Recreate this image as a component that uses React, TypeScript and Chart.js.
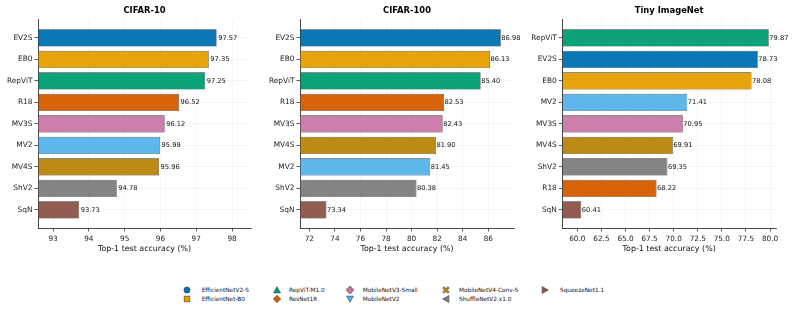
import React, { useEffect, useRef } from "react";
import { Chart, registerables } from "chart.js";
Chart.register(...registerables);

const FONT = '"DejaVu Sans", "Liberation Sans", sans-serif';

const cifar10Labels = ["EV2S", "EB0", "RepViT", "R18", "MV3S", "MV2", "MV4S", "ShV2", "SqN"];
const cifar10Values = [97.57, 97.35, 97.25, 96.52, 96.12, 95.99, 95.96, 94.78, 93.73];
const cifar10Ticks = [93, 94, 95, 96, 97, 98];

const cifar100Labels = ["EV2S", "EB0", "RepViT", "R18", "MV3S", "MV4S", "MV2", "ShV2", "SqN"];
const cifar100Values = [86.98, 86.13, 85.4, 82.53, 82.43, 81.9, 81.45, 80.38, 73.34];
const cifar100Ticks = [72, 74, 76, 78, 80, 82, 84, 86];

const tinyLabels = ["RepViT", "EV2S", "EB0", "MV2", "MV3S", "MV4S", "ShV2", "R18", "SqN"];
const tinyValues = [79.87, 78.73, 78.08, 71.41, 70.95, 69.91, 69.35, 68.22, 60.41];
const tinyTicks = [60, 62.5, 65, 67.5, 70, 72.5, 75, 77.5, 80];

const modelColors: Record<string, string> = {
  EV2S: "#0072B2",
  EB0: "#E69F00",
  RepViT: "#009E73",
  R18: "#D55E00",
  MV3S: "#CC79A7",
  MV2: "#56B4E9",
  MV4S: "#B8860B",
  ShV2: "#7F7F7F",
  SqN: "#8C564B",
};

const legendKeys = ["EV2S", "EB0", "RepViT", "R18", "MV3S", "MV2", "MV4S", "ShV2", "SqN"];
const legendNames = [
  "EfficientNetV2-S",
  "EfficientNet-B0",
  "RepViT-M1.0",
  "ResNet18",
  "MobileNetV3-Small",
  "MobileNetV2",
  "MobileNetV4-Conv-S",
  "ShuffleNetV2 x1.0",
  "SqueezeNet1.1",
];
const legendMarkers = ["circle", "square", "triUp", "diamond", "plus", "triDown", "x", "triLeft", "triRight"];

const xTitle = "Top-1 test accuracy (%)";

function hexA(hex: string, a: number) {
  const n = parseInt(hex.slice(1), 16);
  return `rgba(${(n >> 16) & 255},${(n >> 8) & 255},${n & 255},${a})`;
}

const valueLabelPlugin = {
  id: "valueLabels",
  afterDatasetsDraw(chart: any, _args: any, opts: any) {
    const ctx = chart.ctx;
    const meta = chart.getDatasetMeta(0);
    const ds = chart.data.datasets[0];
    ctx.save();
    ctx.font = `6.7px ${FONT}`;
    ctx.fillStyle = "#111";
    ctx.textBaseline = "middle";
    ctx.textAlign = "left";
    meta.data.forEach((bar: any, i: number) => {
      const v = ds.data[i].x;
      ctx.fillText(v.toFixed(2), bar.x + (opts.offset ?? 1), bar.y);
    });
    ctx.restore();
  },
};

type PanelProps = {
  title: string;
  labels: string[];
  values: number[];
  ticks: number[];
  digits: number;
  xMin: number;
  xMax: number;
  left: number;
  width: number;
  areaLeft: number;
  areaRight: number;
  labelOffset: number;
};

function Panel(p: PanelProps) {
  const ref = useRef<HTMLCanvasElement>(null);
  useEffect(() => {
    const chart = new Chart(ref.current!, {
      type: "bar",
      data: {
        datasets: [
          {
            data: p.labels.map((l, i) => ({ x: p.values[i], y: i })),
            backgroundColor: p.labels.map((l) => hexA(modelColors[l], 0.96)),
            borderColor: "#333",
            borderWidth: 0.6,
            borderSkipped: false,
            base: p.xMin,
            barPercentage: 0.8,
            categoryPercentage: 1,
          } as any,
        ],
      },
      options: {
        animation: false,
        responsive: false,
        indexAxis: "y",
        layout: { padding: { left: 0, right: p.width - p.areaRight, top: 0, bottom: 0 } },
        plugins: {
          legend: { display: false },
          tooltip: { enabled: false },
          title: {
            display: true,
            text: p.title,
            fullSize: false,
            color: "#000",
            font: { family: FONT, size: 8.4, weight: "bold" },
            padding: { top: 6, bottom: 3.8 },
          },
          valueLabels: { offset: p.labelOffset },
        } as any,
        scales: {
          x: {
            type: "linear",
            min: p.xMin,
            max: p.xMax,
            offset: false,
            afterBuildTicks: (s: any) => {
              s.ticks = p.ticks.map((v) => ({ value: v }));
            },
            afterFit: (s: any) => {
              s.height = 32;
            },
            ticks: {
              callback: (v: any) => Number(v).toFixed(p.digits),
              font: { family: FONT, size: 7.3 },
              color: "#222",
              padding: 3,
              maxRotation: 0,
              autoSkip: false,
            },
            grid: {
              color: "rgba(0,0,0,0.07)",
              lineWidth: 0.6,
              tickColor: "#333",
              tickLength: 3.5,
              tickWidth: 0.8,
              offset: false,
            },
            border: { color: "#333", width: 0.9 },
            title: {
              display: true,
              text: xTitle,
              color: "#111",
              font: { family: FONT, size: 7.9 },
              padding: { top: 0, bottom: 5.9 },
            },
          },
          y: {
            type: "linear",
            reverse: true,
            min: -0.84,
            max: 8.84,
            offset: false,
            afterBuildTicks: (s: any) => {
              s.ticks = p.labels.map((_, i) => ({ value: i }));
            },
            afterFit: (s: any) => {
              s.width = p.areaLeft;
            },
            ticks: {
              callback: (v: any) => p.labels[Math.round(Number(v))] ?? "",
              font: { family: FONT, size: 7.4 },
              color: "#222",
              padding: 2,
              autoSkip: false,
            },
            grid: {
              color: "rgba(0,0,0,0.07)",
              lineWidth: 0.6,
              tickColor: "#333",
              tickLength: 3.5,
              tickWidth: 0.8,
              offset: false,
            },
            border: { color: "#333", width: 0.9 },
          },
        } as any,
      },
      plugins: [valueLabelPlugin as any],
    });
    return () => chart.destroy();
  }, []);
  return (
    <canvas
      ref={ref}
      width={p.width}
      height={260}
      style={{ position: "absolute", left: p.left, top: 0, width: p.width, height: 260, display: "block" }}
    />
  );
}

function Marker({ kind, color }: { kind: string; color: string }) {
  const s = "#333";
  const sw = 0.5;
  let shape: any = null;
  switch (kind) {
    case "circle":
      shape = <circle cx={4} cy={4} r={3.1} fill={color} stroke={s} strokeWidth={sw} />;
      break;
    case "square":
      shape = <rect x={1.1} y={1.1} width={5.8} height={5.8} fill={color} stroke={s} strokeWidth={sw} />;
      break;
    case "triUp":
      shape = <polygon points="4,0.6 7.5,6.9 0.5,6.9" fill={color} stroke={s} strokeWidth={sw} />;
      break;
    case "triDown":
      shape = <polygon points="4,7.4 7.5,1.1 0.5,1.1" fill={color} stroke={s} strokeWidth={sw} />;
      break;
    case "triLeft":
      shape = <polygon points="0.6,4 6.9,0.5 6.9,7.5" fill={color} stroke={s} strokeWidth={sw} />;
      break;
    case "triRight":
      shape = <polygon points="7.4,4 1.1,0.5 1.1,7.5" fill={color} stroke={s} strokeWidth={sw} />;
      break;
    case "diamond":
      shape = <polygon points="4,0.2 7.8,4 4,7.8 0.2,4" fill={color} stroke={s} strokeWidth={sw} />;
      break;
    case "plus":
      shape = (
        <polygon
          points="2.7,0.7 5.3,0.7 5.3,2.7 7.3,2.7 7.3,5.3 5.3,5.3 5.3,7.3 2.7,7.3 2.7,5.3 0.7,5.3 0.7,2.7 2.7,2.7"
          fill={color}
          stroke={s}
          strokeWidth={sw}
        />
      );
      break;
    case "x":
      shape = (
        <polygon
          points="2.1,0.7 4,2.6 5.9,0.7 7.3,2.1 5.4,4 7.3,5.9 5.9,7.3 4,5.4 2.1,7.3 0.7,5.9 2.6,4 0.7,2.1"
          fill={color}
          stroke={s}
          strokeWidth={sw}
        />
      );
      break;
  }
  return (
    <svg width={8} height={8} viewBox="0 0 8 8" style={{ position: "absolute", left: -4, top: -4 }}>
      {shape}
    </svg>
  );
}

const legendColX = [186.7, 276.7, 350, 446, 545];
const legendTextX = [201.7, 289, 362.7, 459, 560];
const legendRowY = [290, 299];

function Legend() {
  return (
    <>
      {legendKeys.map((k, i) => {
        const col = Math.floor(i / 2);
        const row = i % 2;
        const y = legendRowY[row];
        return (
          <React.Fragment key={k}>
            <div style={{ position: "absolute", left: legendColX[col], top: y, width: 0, height: 0 }}>
              <Marker kind={legendMarkers[i]} color={modelColors[k]} />
            </div>
            <div
              style={{
                position: "absolute",
                left: legendTextX[col],
                top: y - 5,
                height: 10,
                lineHeight: "10px",
                fontFamily: FONT,
                fontSize: 5.8,
                color: "#111",
                whiteSpace: "nowrap",
              }}
            >
              {legendNames[i]}
            </div>
          </React.Fragment>
        );
      })}
    </>
  );
}

export default function App() {
  return (
    <div style={{ position: "fixed", left: 0, top: 0, width: 793, height: 312, background: "#fff", overflow: "hidden" }}>
      <Panel
        title="CIFAR-10"
        labels={cifar10Labels}
        values={cifar10Values}
        ticks={cifar10Ticks}
        digits={0}
        xMin={92.58}
        xMax={98.53}
        left={0}
        width={260}
        areaLeft={38}
        areaRight={251}
        labelOffset={1.5}
      />
      <Panel
        title="CIFAR-100"
        labels={cifar100Labels}
        values={cifar100Values}
        ticks={cifar100Ticks}
        digits={0}
        xMin={71.27}
        xMax={88.01}
        left={260}
        width={260}
        areaLeft={40}
        areaRight={254}
        labelOffset={0.5}
      />
      <Panel
        title="Tiny ImageNet"
        labels={tinyLabels}
        values={tinyValues}
        ticks={tinyTicks}
        digits={1}
        xMin={58.44}
        xMax={80.62}
        left={520}
        width={273}
        areaLeft={42.3}
        areaRight={256}
        labelOffset={0.5}
      />
      <Legend />
    </div>
  );
}
